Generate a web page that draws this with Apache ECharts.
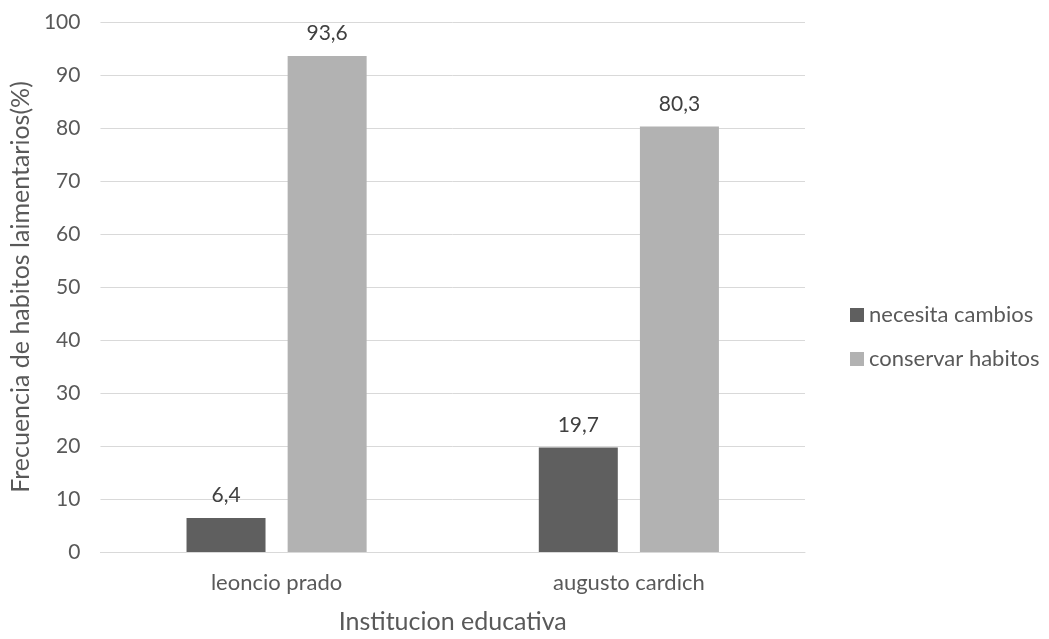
<!DOCTYPE html>
<html>
<head>
<meta charset="utf-8">
<script src="https://cdn.jsdelivr.net/npm/echarts@6/dist/echarts.min.js"></script>
<style>
  html, body { margin: 0; padding: 0; background: #fff; }
  #chart { width: 1049px; height: 639px; }
</style>
</head>
<body>
<div id="chart"></div>
<script>
// datos
var categorias = ['leoncio prado', 'augusto cardich']
var necesitaCambios = [6.4, 19.7]
var conservarHabitos = [93.6, 80.3]
var serieNombres = ['necesita cambios', 'conservar habitos']

var fuente = 'Lato, "Open Sans", sans-serif'
var textoColor = '#595959'

function etiqueta (p) {
  return String(p.value).replace('.', ',')
}

var myChart = echarts.init(document.getElementById('chart'))
myChart.setOption({
  animation: false,
  textStyle: { fontFamily: fuente },
  grid: { left: 100, right: 244, top: 22, bottom: 84 },
  legend: {
    orient: 'vertical',
    left: 845,
    top: 299,
    itemWidth: 14,
    itemHeight: 14,
    itemGap: 22,
    icon: 'rect',
    textStyle: { color: textoColor, fontSize: 22, fontFamily: fuente },
    data: serieNombres
  },
  xAxis: {
    type: 'category',
    data: categorias,
    name: 'Institucion educativa',
    nameLocation: 'middle',
    nameGap: 57,
    nameTextStyle: { color: textoColor, fontSize: 25, fontFamily: fuente },
    axisTick: { show: false },
    axisLine: { lineStyle: { color: '#d9d9d9', width: 1 } },
    axisLabel: { color: textoColor, fontSize: 22, margin: 20, fontFamily: fuente }
  },
  yAxis: {
    type: 'value',
    min: 0,
    max: 100,
    interval: 10,
    name: 'Frecuencia de habitos laimentarios(%)',
    nameLocation: 'middle',
    nameGap: 64,
    nameTextStyle: { color: textoColor, fontSize: 25, fontFamily: fuente },
    axisLine: { show: false },
    axisTick: { show: false },
    axisLabel: { color: textoColor, fontSize: 21, margin: 20, fontFamily: fuente },
    splitLine: { lineStyle: { color: '#d9d9d9', width: 1 } }
  },
  series: [
    {
      name: serieNombres[0],
      type: 'bar',
      data: necesitaCambios,
      barWidth: 79,
      barGap: '28%',
      itemStyle: { color: '#5f5f5f' },
      label: {
        show: true,
        position: 'top',
        distance: 12,
        color: '#404040',
        fontSize: 21,
        fontFamily: fuente,
        formatter: etiqueta
      }
    },
    {
      name: serieNombres[1],
      type: 'bar',
      data: conservarHabitos,
      barWidth: 79,
      barGap: '28%',
      itemStyle: { color: '#b2b2b2' },
      label: {
        show: true,
        position: 'top',
        distance: 12,
        color: '#404040',
        fontSize: 21,
        fontFamily: fuente,
        formatter: etiqueta
      }
    }
  ]
})
</script>
</body>
</html>
